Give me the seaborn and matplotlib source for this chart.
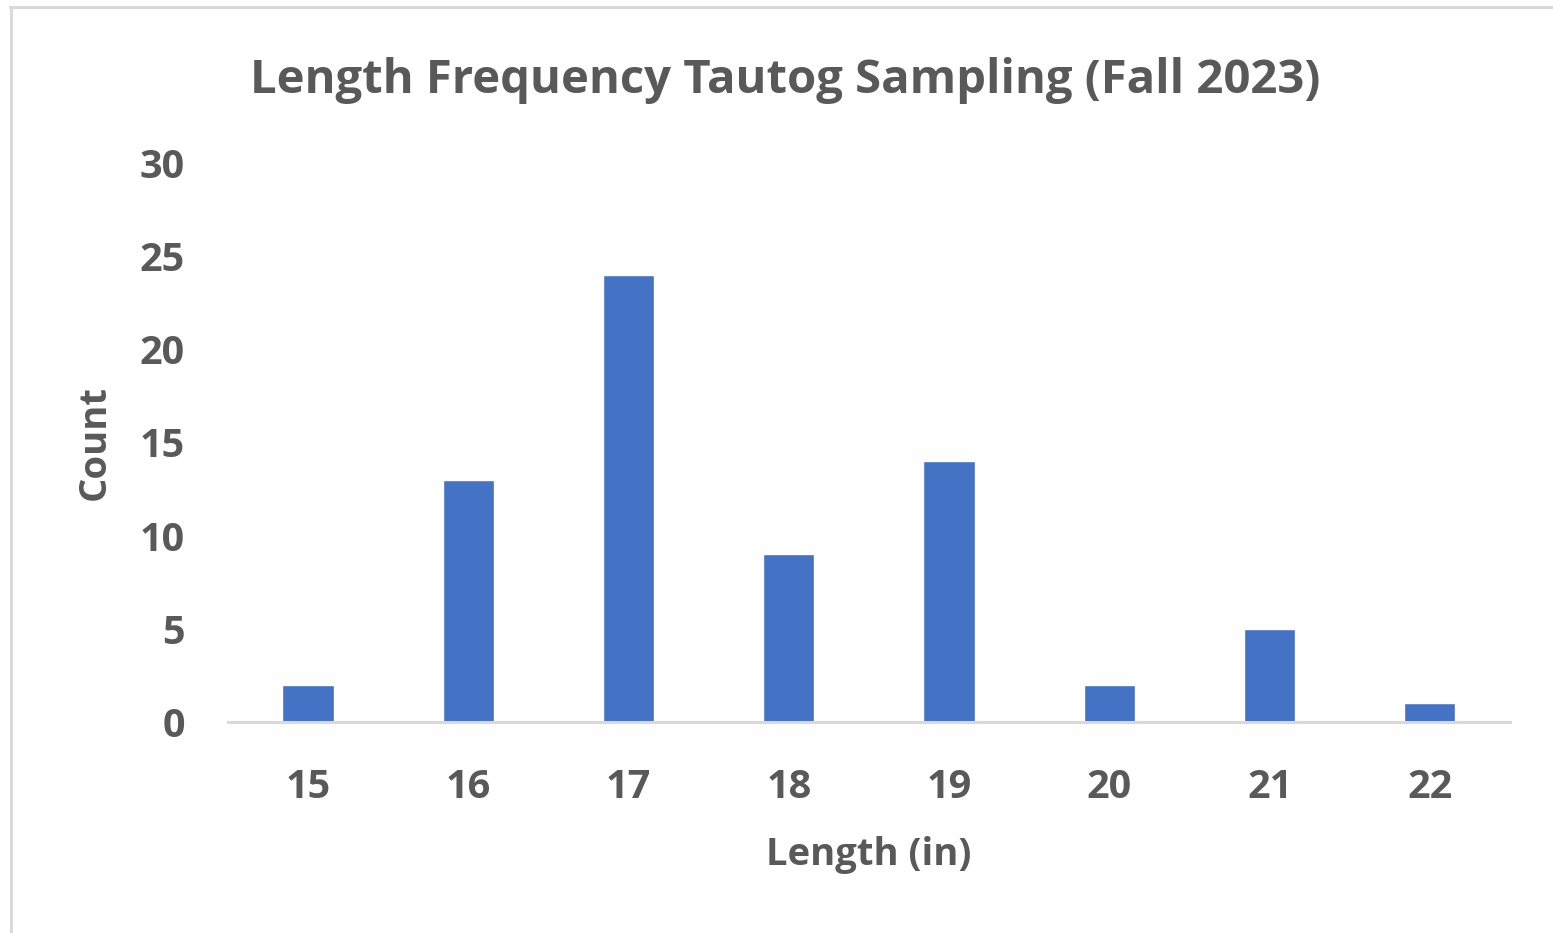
import matplotlib
matplotlib.use("Agg")
import matplotlib.pyplot as plt
import seaborn as sns
import pandas as pd
from matplotlib.lines import Line2D

lengths = ["15", "16", "17", "18", "19", "20", "21", "22"]
counts = [2, 13, 24, 9, 14, 2, 5, 1]
y_ticks = [0, 5, 10, 15, 20, 25, 30]

title = "Length Frequency Tautog Sampling (Fall 2023)"
xlabel = "Length (in)"
ylabel = "Count"

sns.set_theme(style="white")
plt.rcParams['font.family'] = ['Open Sans', 'DejaVu Sans']

TEXT = "#595959"
BAR = "#4472C4"
GRID = "#D9D9D9"

df = pd.DataFrame({"Length": lengths, "Count": counts})

fig = plt.figure(figsize=(15.53, 9.33), dpi=100)
ax = fig.add_axes([0.1468, 0.2262, 0.8255, 0.5991])

sns.barplot(data=df, x="Length", y="Count", color=BAR, saturation=1,
            width=0.32, ax=ax, order=lengths)

ax.set_xlim(-0.5, len(lengths) - 0.5)
ax.set_ylim(0, 30)
ax.set_yticks(y_ticks)

for s in ["top", "right", "left"]:
    ax.spines[s].set_visible(False)
ax.spines["bottom"].set_color(GRID)
ax.spines["bottom"].set_linewidth(2.2)
ax.tick_params(axis="both", length=0, labelsize=28.5, labelcolor=TEXT)
ax.tick_params(axis="x", pad=33)
ax.tick_params(axis="y", pad=31)
for lab in ax.get_xticklabels() + ax.get_yticklabels():
    lab.set_fontweight("bold")

ax.set_xlabel(xlabel, fontsize=27.5, color=TEXT, fontweight="bold", labelpad=21)
ax.set_ylabel(ylabel, fontsize=27.5, color=TEXT, fontweight="bold", labelpad=19)

fig.text(0.5055, 0.9135, title, ha="center", va="center", fontsize=34,
         color=TEXT, fontweight="bold")

# partial frame (top and left edges visible in the screenshot)
fig.add_artist(Line2D([10/1553, 1.0], [1 - 7/933, 1 - 7/933], color=GRID, lw=2.2,
                      transform=fig.transFigure))
fig.add_artist(Line2D([11/1553, 11/1553], [0, 1 - 7/933], color=GRID, lw=2.2,
                      transform=fig.transFigure))

fig.savefig("out.png", dpi=100)
